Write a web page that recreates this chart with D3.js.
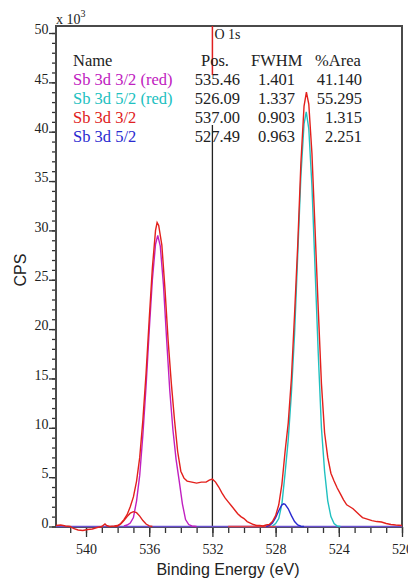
<!DOCTYPE html>
<html>
<head>
<meta charset="utf-8">
<script src="https://cdn.jsdelivr.net/npm/d3@7"></script>
<style>
  html, body { margin: 0; padding: 0; background: #fff; }
  svg { display: block; }
</style>
</head>
<body>
<div id="chart"></div>
<script>
// ---------------- DATA ----------------
// Experimental envelope (red): binding energy (eV) and counts (x10^3)
const envE = [541.9,541.6,541.3,541.0,540.8,540.5,540.2,539.9,539.6,539.3,539.0,538.8,538.7,538.5,538.2,538.0,537.8,537.6,537.4,537.2,537.0,536.8,536.6,536.4,536.2,536.0,535.8,535.6,535.5,535.4,535.2,535.0,534.8,534.6,534.4,534.2,534.0,533.8,533.6,533.3,533.0,532.7,532.4,532.2,532.0,531.8,531.6,531.4,531.2,531.0,530.8,530.6,530.4,530.2,530.0,529.8,529.6,529.4,529.2,529.0,528.8,528.6,528.4,528.2,528.0,527.8,527.6,527.4,527.2,527.0,526.8,526.6,526.4,526.2,526.05,525.9,525.7,525.5,525.3,525.1,524.9,524.7,524.5,524.3,524.1,523.9,523.7,523.5,523.3,523.1,522.9,522.7,522.5,522.3,522.1,521.9,521.6,521.3,521.0,520.7,520.4,520.0];
const envV = [0.1,0.15,0.05,0.0,-0.2,-0.35,-0.4,-0.3,-0.25,-0.1,0.0,0.25,0.1,0.0,0.05,0.1,0.3,0.7,1.2,2.0,3.0,4.6,7.0,10.8,15.5,21.0,26.2,30.0,30.8,30.5,28.5,24.0,18.8,14.5,10.8,7.6,5.6,4.9,4.6,4.5,4.4,4.5,4.5,4.7,4.8,4.5,4.0,3.4,2.9,2.5,2.1,1.7,1.3,1.0,0.8,0.5,0.35,0.2,0.1,0.1,0.05,0.15,0.2,0.5,1.1,2.2,4.3,7.6,10.5,15.0,21.5,28.5,36.8,42.6,44.0,42.8,37.8,30.0,22.0,14.5,9.5,7.0,5.4,4.6,3.9,3.3,2.7,2.2,2.0,1.8,1.5,1.2,0.9,0.8,0.7,0.6,0.5,0.45,0.3,0.2,0.15,0.1];

// Component: Sb 3d 3/2 (red) — magenta
const c1E = [537.6,537.4,537.2,537.0,536.8,536.6,536.4,536.2,536.0,535.8,535.6,535.46,535.3,535.1,534.9,534.7,534.5,534.3,534.1,533.9,533.7,533.5,533.3,533.0];
const c1V = [0.05,0.15,0.35,0.9,2.6,5.2,9.3,14.2,19.8,25.0,28.6,29.5,28.4,24.5,19.0,13.8,9.8,6.8,4.6,2.3,0.7,0.2,0.05,0];

// Component: Sb 3d 5/2 (red) — cyan
const c2E = [528.2,528.0,527.8,527.6,527.4,527.2,527.0,526.8,526.6,526.4,526.2,526.06,525.9,525.7,525.5,525.3,525.1,524.9,524.7,524.5,524.3,524.1,523.9];
const c2V = [0.05,0.3,0.8,2.3,5.4,8.8,13.5,19.5,27.5,35.5,40.8,42.0,40.3,34.5,26.0,17.5,10.0,5.6,2.6,1.0,0.3,0.05,0];

// Component: Sb 3d 3/2 — red
const c3E = [538.2,538.0,537.8,537.6,537.4,537.2,537.0,536.8,536.6,536.4,536.2,536.0,535.8];
const c3V = [0,0.05,0.25,0.6,1.0,1.35,1.5,1.4,1.05,0.6,0.25,0.07,0];

// Component: Sb 3d 5/2 — blue
const c4E = [528.6,528.4,528.2,528.0,527.8,527.6,527.49,527.4,527.2,527.0,526.8,526.6,526.4,526.2];
const c4V = [0,0.1,0.35,0.9,1.6,2.2,2.3,2.25,1.8,1.1,0.5,0.15,0.03,0];

// Peak table
const tableHeader = ["Name", "Pos.", "FWHM", "%Area"];
const peakNames = ["Sb 3d 3/2 (red)", "Sb 3d 5/2 (red)", "Sb 3d 3/2", "Sb 3d 5/2"];
const peakPos = ["535.46", "526.09", "537.00", "527.49"];
const peakFWHM = ["1.401", "1.337", "0.903", "0.963"];
const peakArea = ["41.140", "55.295", "1.315", "2.251"];
const peakColors = ["#c020c0", "#20c0c0", "#e02020", "#2a2ad0"];

const xMajorTicks = [540, 536, 532, 528, 524, 520];
const yMajorTicks = [0, 5, 10, 15, 20, 25, 30, 35, 40, 45, 50];
const markerE = 532; // O 1s marker

// ---------------- CHART ----------------
const W = 408, H = 579;
const svg = d3.select("#chart").append("svg").attr("width", W).attr("height", H);

const L = 56, R = 402, T = 26, B = 527;
const x = d3.scaleLinear().domain([541.9, 520]).range([L, R]);
const y = d3.scaleLinear().domain([0, 50]).range([526.5, 33]);

const serif = "'Liberation Serif', 'Times New Roman', serif";
const sans = "'Liberation Sans', Arial, sans-serif";

// minor ticks x
const xMinor = d3.range(520, 542, 1);
svg.append("g").attr("transform", `translate(0,${B})`)
  .call(d3.axisBottom(x).tickValues(xMinor).tickSize(6).tickFormat(""))
  .call(g => g.select(".domain").remove())
  .call(g => g.selectAll("line").attr("stroke", "#333").attr("stroke-width", 1.3));
svg.append("g").attr("transform", `translate(0,${B})`)
  .call(d3.axisBottom(x).tickValues(xMajorTicks).tickSize(10).tickPadding(7).tickFormat(d3.format("d")))
  .call(g => g.select(".domain").remove())
  .call(g => g.selectAll("line").attr("stroke", "#333").attr("stroke-width", 1.3))
  .call(g => g.selectAll("text").attr("font-family", serif).attr("font-size", 14).attr("fill", "#222"));

// y ticks
const yMinor = d3.range(0, 51, 1);
svg.append("g").attr("transform", `translate(${L},0)`)
  .call(d3.axisLeft(y).tickValues(yMinor).tickSize(4).tickFormat(""))
  .call(g => g.select(".domain").remove())
  .call(g => g.selectAll("line").attr("stroke", "#333").attr("stroke-width", 1.3));
svg.append("g").attr("transform", `translate(${L},0)`)
  .call(d3.axisLeft(y).tickValues(yMajorTicks).tickSize(7).tickPadding(0.5).tickFormat(d3.format("d")))
  .call(g => g.select(".domain").remove())
  .call(g => g.selectAll("line").attr("stroke", "#333").attr("stroke-width", 1.3))
  .call(g => g.selectAll("text").attr("font-family", serif).attr("font-size", 14).attr("fill", "#222").attr("dy", "0.05em"));

// frame
svg.append("rect").attr("x", L).attr("y", T).attr("width", R - L).attr("height", B - T)
  .attr("fill", "none").attr("stroke", "#4a4a4a").attr("stroke-width", 2);

// x10^3
const sc = svg.append("text").attr("x", 56).attr("y", 24).attr("font-family", serif).attr("font-size", 14).attr("fill", "#222");
sc.append("tspan").text("x 10");
sc.append("tspan").attr("font-size", 10).attr("dy", -7).text("3");

// marker lines
svg.append("line").attr("x1", x(markerE)).attr("x2", x(markerE)).attr("y1", T).attr("y2", 75)
  .attr("stroke", "#e02020").attr("stroke-width", 1.5);
svg.append("line").attr("x1", x(markerE)).attr("x2", x(markerE)).attr("y1", 125).attr("y2", B)
  .attr("stroke", "#222").attr("stroke-width", 1.3);
svg.append("text").attr("x", x(markerE) + 2).attr("y", 39).attr("font-family", serif).attr("font-size", 14).attr("fill", "#222").text("O 1s");

// curves
const line = d3.line().x(d => x(d[0])).y(d => y(d[1]));
const zip = (a, b) => a.map((v, i) => [v, b[i]]);

// baseline
svg.append("path").datum([[541.9, 0], [520, 0]]).attr("d", line)
  .attr("fill", "none").attr("stroke", "#6a50d0").attr("stroke-width", 1.5);
svg.append("path").datum([[531.0, 0], [528.0, 0]]).attr("d", line)
  .attr("fill", "none").attr("stroke", "#e04050").attr("stroke-width", 1.5);

const comps = [[c1E, c1V, peakColors[0]], [c2E, c2V, peakColors[1]], [c3E, c3V, peakColors[2]], [c4E, c4V, peakColors[3]]];
comps.forEach(([e, v, c]) => {
  svg.append("path").datum(zip(e, v)).attr("d", line)
    .attr("fill", "none").attr("stroke", c).attr("stroke-width", 1.4);
});

svg.append("path").datum(zip(envE, envV)).attr("d", line)
  .attr("fill", "none").attr("stroke", "#e3201c").attr("stroke-width", 1.4);

// table
const tf = 16.5;
const rowY = i => 65.5 + i * 19;
const tbl = svg.append("g").attr("font-family", serif).attr("font-size", tf);
tbl.append("text").attr("x", 73).attr("y", rowY(0)).attr("fill", "#222").text(tableHeader[0]);
tbl.append("text").attr("x", 201).attr("y", rowY(0)).attr("fill", "#222").text(tableHeader[1]);
tbl.append("text").attr("x", 251).attr("y", rowY(0)).attr("fill", "#222").text(tableHeader[2]);
tbl.append("text").attr("x", 315).attr("y", rowY(0)).attr("fill", "#222").text(tableHeader[3]);
peakNames.forEach((n, i) => {
  tbl.append("text").attr("x", 73).attr("y", rowY(i + 1)).attr("fill", peakColors[i]).text(n);
  tbl.append("text").attr("x", 240).attr("y", rowY(i + 1)).attr("text-anchor", "end").attr("fill", "#222").text(peakPos[i]);
  tbl.append("text").attr("x", 295).attr("y", rowY(i + 1)).attr("text-anchor", "end").attr("fill", "#222").text(peakFWHM[i]);
  tbl.append("text").attr("x", 362).attr("y", rowY(i + 1)).attr("text-anchor", "end").attr("fill", "#222").text(peakArea[i]);
});

// axis titles
svg.append("text").attr("x", 228).attr("y", 575).attr("text-anchor", "middle")
  .attr("font-family", sans).attr("font-size", 16).attr("fill", "#222").text("Binding Energy (eV)");
svg.append("text").attr("transform", "translate(26,270) rotate(-90)").attr("text-anchor", "middle")
  .attr("font-family", sans).attr("font-size", 16).attr("fill", "#222").text("CPS");
</script>
</body>
</html>
